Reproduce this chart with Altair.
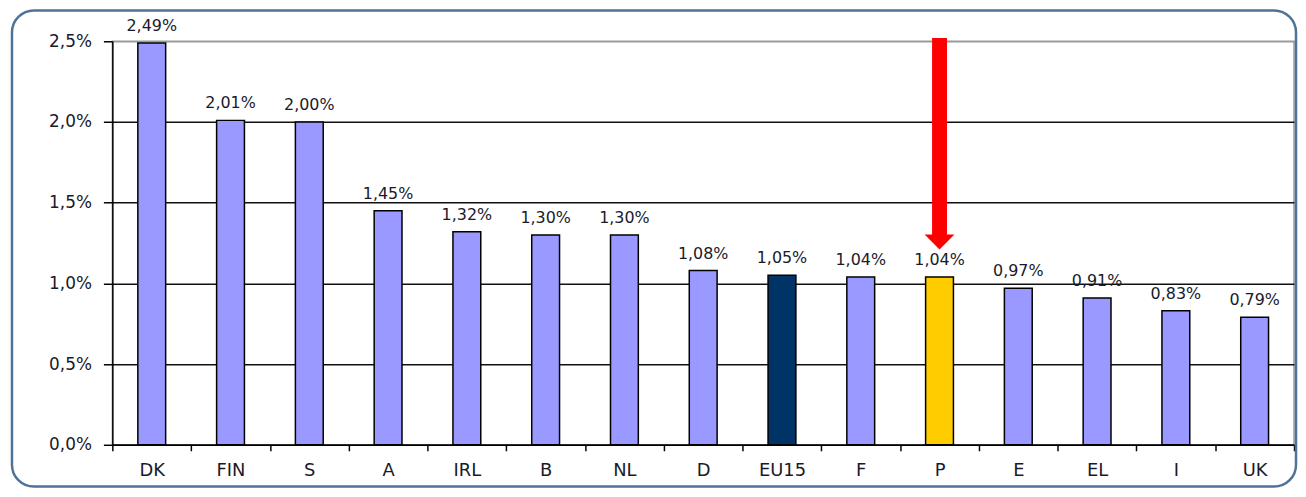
import altair as alt
import pandas as pd

countries = ["DK", "FIN", "S", "A", "IRL", "B", "NL", "D", "EU15", "F", "P", "E", "EL", "I", "UK"]
values = [2.49, 2.01, 2.00, 1.45, 1.32, 1.30, 1.30, 1.08, 1.05, 1.04, 1.04, 0.97, 0.91, 0.83, 0.79]
y_ticks = [0.0, 0.5, 1.0, 1.5, 2.0, 2.5]
eu_country = "EU15"
pt_country = "P"

arrow_country = ["P"]
arrow_top = [2.52]
arrow_head_base = [1.30]
arrow_tip = [1.21]

df = pd.DataFrame({"country": countries, "value": values})
arrow_df = pd.DataFrame({"country": arrow_country, "top": arrow_top,
                         "base": arrow_head_base, "tip": arrow_tip})

FONT = "DejaVu Sans"
TXT = "#1a1a2a"

x_enc = alt.X(
    "country:N",
    title=None,
    scale=alt.Scale(domain=countries, paddingInner=0, paddingOuter=0),
    axis=alt.Axis(
        tickBand="extent", tickSize=6, tickWidth=1.5, tickColor="black",
        labelPadding=11, labelFontSize=18, labelFont=FONT, labelColor=TXT,
        labelAngle=0, domainColor="black", domainWidth=1.5, grid=False,
    ),
)
y_enc = alt.Y(
    "value:Q",
    title=None,
    scale=alt.Scale(domain=[0, 2.5], nice=False),
    axis=alt.Axis(
        values=y_ticks, tickSize=9, tickWidth=1.5, tickColor="black",
        labelPadding=12, labelFontSize=17, labelFont=FONT, labelColor=TXT,
        labelExpr="replace(format(datum.value, '.1f'), '.', ',') + '%'",
        domainColor="black", domainWidth=1.5,
        grid=True, gridWidth=1.5,
        gridColor={"condition": {"test": "datum.value >= 2.5", "value": "#9a9a9a"},
                   "value": "#111111"},
    ),
)

base = alt.Chart(df).transform_calculate(
    kind=f"datum.country == '{eu_country}' ? 'eu' : (datum.country == '{pt_country}' ? 'pt' : 'other')",
    label="replace(format(datum.value, '.2f'), '.', ',') + '%'",
)

bars = base.mark_bar(size=28, stroke="black", strokeWidth=1.5).encode(
    x=x_enc,
    y=y_enc,
    color=alt.Color("kind:N", legend=None,
                    scale=alt.Scale(domain=["other", "eu", "pt"],
                                    range=["#9999FF", "#003366", "#FFCC00"])),
)

labels = base.mark_text(font=FONT, fontSize=16, color=TXT, baseline="alphabetic", dy=-12).encode(
    x=alt.X("country:N"),
    y=alt.Y("value:Q"),
    text="label:N",
)

arrow_shaft = alt.Chart(arrow_df).mark_rule(color="#FF0000", strokeWidth=15, strokeCap="butt").encode(
    x=alt.X("country:N"),
    y=alt.Y("top:Q"),
    y2="base:Q",
)

arrow_head = alt.Chart(arrow_df).mark_point(
    shape="M-1,-1L1,-1L0,0Z", filled=True, color="#FF0000", opacity=1, size=900, strokeWidth=0
).encode(
    x=alt.X("country:N"),
    y=alt.Y("tip:Q"),
)

frame = alt.Chart(alt.Data(values=[{}])).mark_rect(
    fill=None, stroke="#4f7396", strokeWidth=2.5, cornerRadius=22
).encode(
    x=alt.value(-101), x2=alt.value(1191),
    y=alt.value(-31), y2=alt.value(448),
)

chart = alt.layer(bars, labels, arrow_shaft, arrow_head, frame).properties(
    width=1189,
    height=406,
    autosize=alt.AutoSizeParams(type="none"),
    padding={"left": 105, "top": 32, "right": 4, "bottom": 44},
    background="white",
).configure_view(
    stroke="#9a9a9a", strokeWidth=1.5,
)

chart.save("out.html", embed_options={"renderer": "svg", "actions": False})
